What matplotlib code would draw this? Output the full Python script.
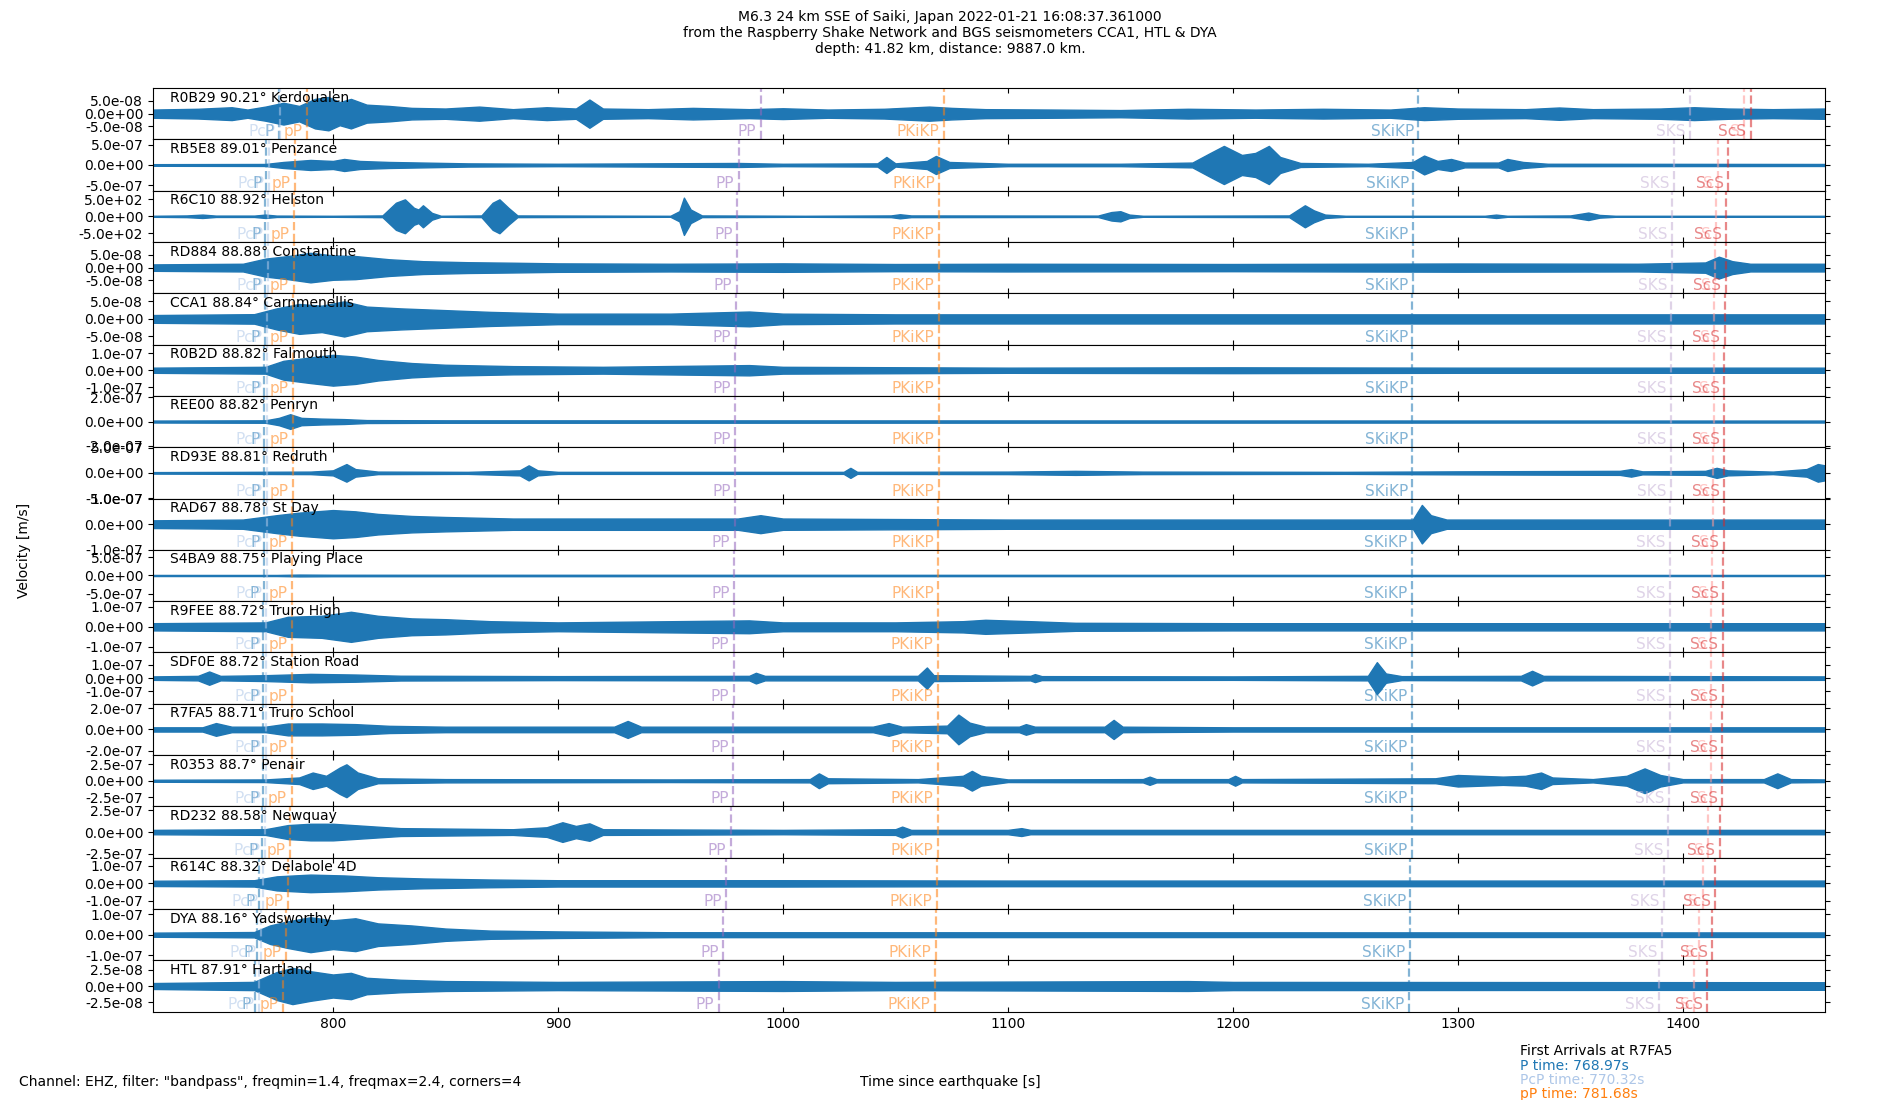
import matplotlib
matplotlib.use("Agg")
from matplotlib import pyplot as plt
from matplotlib.ticker import FormatStrFormatter

# stations, top to bottom
estaciones = ["R0B29 90.21° Kerdoualen", "RB5E8 89.01° Penzance", "R6C10 88.92° Helston",
              "RD884 88.88° Constantine", "CCA1 88.84° Carnmenellis", "R0B2D 88.82° Falmouth",
              "REE00 88.82° Penryn", "RD93E 88.81° Redruth", "RAD67 88.78° St Day",
              "S4BA9 88.75° Playing Place", "R9FEE 88.72° Truro High", "SDF0E 88.72° Station Road",
              "R7FA5 88.71° Truro School", "R0353 88.7° Penair", "RD232 88.58° Newquay",
              "R614C 88.32° Delabole 4D", "DYA 88.16° Yadsworthy", "HTL 87.91° Hartland"]

# y tick value shown on each axis and the half range of each axis
marcas = [5e-8, 5e-7, 5e2, 5e-8, 5e-8, 1e-7, 2e-7, 5e-7, 1e-7,
          5e-7, 1e-7, 1e-7, 2e-7, 2.5e-7, 2.5e-7, 1e-7, 1e-7, 2.5e-8]
limites = [1.0e-7, 6.4e-7, 757, 1.0e-7, 7.3e-8, 1.5e-7, 2.1e-7, 5.1e-7, 1.0e-7,
           7.1e-7, 1.28e-7, 1.93e-7, 2.42e-7, 3.9e-7, 2.94e-7, 1.46e-7, 1.25e-7, 3.9e-8]

# envelope of each trace: (time [s], amplitude in units of the y tick)
envolventes = [
    [(720, .32), (740, .38), (755, .5), (762, .32), (770, .55), (778, .85), (785, .6), (792, 1.15), (798, 1.3),
     (803, .9), (808, 1.15), (815, .7), (825, .6), (835, .45), (850, .4), (865, .55), (880, .35), (895, .5),
     (908, .4), (914, 1.1), (920, .4), (940, .35), (960, .45), (985, .35), (1000, .42), (1020, .32), (1045, .38),
     (1065, .55), (1075, .45), (1090, .35), (1120, .32), (1150, .28), (1180, .38), (1210, .32), (1240, .38),
     (1270, .32), (1285, .5), (1300, .4), (1330, .35), (1345, .48), (1360, .35), (1390, .4), (1405, .5),
     (1420, .4), (1440, .35), (1463, .4)],
    [(720, .04), (770, .05), (778, .15), (790, .25), (800, .2), (805, .3), (812, .2), (825, .15), (840, .12),
     (860, .08), (900, .06), (980, .1), (1000, .06), (1042, .08), (1046, .4), (1050, .08), (1064, .2),
     (1068, .45), (1074, .15), (1100, .06), (1150, .06), (1182, .12), (1190, .6), (1196, .95), (1204, .5),
     (1210, .6), (1216, .95), (1221, .4), (1230, .1), (1260, .06), (1280, .15), (1285, .47), (1291, .2),
     (1297, .3), (1303, .12), (1318, .12), (1322, .3), (1329, .15), (1340, .06), (1463, .05)],
    [(720, .03), (735, .05), (742, .1), (748, .04), (765, .04), (770, .1), (775, .04), (800, .03), (822, .05),
     (828, .8), (832, 1.0), (836, .5), (838, .4), (840, .65), (844, .2), (848, .03), (866, .05), (871, .8),
     (874, 1.0), (878, .5), (882, .05), (950, .03), (954, .3), (956, 1.1), (959, .4), (964, .05), (1010, .03),
     (1048, .05), (1052, .12), (1057, .05), (1140, .04), (1146, .25), (1150, .3), (1154, .1), (1160, .03),
     (1225, .05), (1232, .65), (1236, .35), (1241, .1), (1250, .03), (1312, .03), (1317, .1), (1322, .03),
     (1350, .05), (1358, .22), (1363, .08), (1370, .03), (1463, .03)],
    [(720, .25), (760, .3), (770, .7), (780, .9), (790, 1.15), (800, .95), (810, .9), (825, .65), (840, .5),
     (860, .42), (880, .38), (900, .33), (950, .3), (1000, .33), (1050, .28), (1100, .3), (1200, .28),
     (1300, .32), (1380, .3), (1410, .4), (1416, .85), (1422, .5), (1430, .3), (1463, .3)],
    [(720, .22), (765, .27), (775, .6), (785, .85), (795, .75), (805, 1.0), (815, .7), (830, .6), (850, .5),
     (870, .4), (900, .3), (950, .3), (985, .42), (1000, .3), (1050, .26), (1100, .26), (1200, .26),
     (1300, .26), (1463, .26)],
    [(720, .15), (770, .2), (778, .55), (790, .75), (800, .9), (810, .8), (820, .6), (835, .42), (850, .32),
     (880, .24), (920, .2), (985, .3), (1000, .2), (1100, .15), (1200, .17), (1300, .15), (1463, .15)],
    [(720, .04), (770, .05), (776, .15), (781, .3), (786, .15), (795, .12), (805, .1), (815, .06), (850, .05),
     (1463, .04)],
    [(720, .03), (760, .04), (790, .05), (800, .1), (806, .35), (810, .15), (820, .05), (860, .04), (883, .1),
     (887, .3), (891, .1), (900, .04), (1027, .04), (1030, .2), (1033, .04), (1100, .05), (1130, .08),
     (1160, .05), (1250, .04), (1300, .06), (1372, .08), (1377, .15), (1382, .06), (1410, .08), (1415, .2),
     (1420, .1), (1440, .05), (1455, .15), (1460, .35), (1463, .3)],
    [(720, .15), (760, .18), (775, .35), (785, .45), (800, .55), (810, .5), (820, .4), (835, .32), (850, .28),
     (880, .22), (980, .22), (990, .35), (1000, .22), (1100, .18), (1200, .18), (1280, .18), (1284, .75),
     (1288, .35), (1295, .18), (1463, .18)],
    [(720, .03), (775, .03), (785, .05), (800, .04), (1463, .03)],
    [(720, .18), (770, .22), (780, .5), (795, .55), (808, .75), (820, .55), (835, .42), (850, .38), (870, .28),
     (900, .22), (985, .32), (1000, .22), (1050, .22), (1080, .28), (1090, .35), (1110, .28), (1130, .2),
     (1200, .18), (1300, .18), (1463, .18)],
    [(720, .13), (740, .17), (745, .5), (750, .17), (770, .22), (790, .32), (810, .27), (830, .18), (900, .15),
     (985, .17), (988, .4), (992, .17), (1060, .17), (1064, .8), (1067, .22), (1110, .17), (1112, .3),
     (1115, .15), (1200, .13), (1260, .17), (1264, 1.2), (1268, .35), (1275, .15), (1328, .17), (1333, .55),
     (1338, .17), (1463, .13)],
    [(720, .1), (742, .1), (748, .3), (755, .13), (770, .13), (780, .28), (795, .28), (810, .25), (825, .17),
     (850, .13), (925, .13), (931, .4), (937, .13), (1000, .13), (1040, .13), (1047, .3), (1053, .13),
     (1073, .18), (1078, .7), (1083, .32), (1090, .13), (1105, .13), (1108, .25), (1112, .13), (1143, .13),
     (1147, .45), (1151, .13), (1200, .1), (1463, .1)],
    [(720, .06), (770, .08), (785, .2), (791, .5), (797, .3), (803, .8), (806, 1.0), (811, .5), (820, .15),
     (850, .1), (950, .08), (1012, .1), (1016, .45), (1020, .15), (1060, .1), (1080, .3), (1084, .6),
     (1088, .3), (1100, .08), (1160, .1), (1163, .25), (1166, .1), (1198, .1), (1201, .3), (1204, .1),
     (1290, .15), (1300, .35), (1310, .3), (1320, .25), (1330, .3), (1337, .5), (1342, .2), (1360, .1),
     (1375, .3), (1383, .75), (1390, .35), (1400, .1), (1436, .1), (1442, .45), (1448, .1), (1463, .08)],
    [(720, .1), (770, .13), (780, .32), (790, .38), (800, .38), (815, .28), (830, .18), (880, .13), (895, .22),
     (902, .45), (908, .28), (914, .4), (920, .13), (1000, .1), (1050, .13), (1053, .25), (1057, .1),
     (1100, .1), (1106, .18), (1110, .1), (1463, .1)],
    [(720, .15), (765, .18), (775, .4), (790, .5), (805, .45), (820, .35), (840, .28), (870, .22), (900, .18),
     (1000, .18), (1100, .16), (1200, .16), (1300, .16), (1463, .16)],
    [(720, .1), (765, .13), (772, .45), (780, .65), (790, .85), (800, .7), (810, .8), (820, .55), (835, .45),
     (850, .3), (870, .2), (900, .16), (950, .12), (1463, .11)],
    [(720, .18), (765, .25), (775, .85), (782, 1.1), (790, .9), (800, .7), (808, .8), (815, .5), (830, .38),
     (850, .3), (900, .25), (1000, .3), (1050, .25), (1180, .3), (1200, .25), (1463, .23)],
]

# phase arrival times [s] per station
fases = ["P", "PcP", "pP", "PP", "PKiKP", "SKiKP", "SKS", "S", "ScS"]
coloresFases = ["#1f77b4", "#aec7e8", "#ff7f0e", "#9467bd", "#ff7f0e", "#1f77b4", "#c5b0d5", "#ff9896", "#d62728"]
tiempoP = [775.9, 770.4, 769.9, 769.8, 769.6, 769.5, 769.5, 769.4, 769.3, 769.2, 769.0, 769.0, 768.97, 768.9, 768.4, 767.2, 766.4, 765.3]
tiempoPcP = [776.5, 771.5, 771.2, 771.0, 770.9, 770.8, 770.8, 770.7, 770.6, 770.5, 770.4, 770.4, 770.32, 770.3, 769.8, 768.7, 768.1, 767.0]
tiempopP = [788.6, 783.1, 782.6, 782.5, 782.3, 782.2, 782.2, 782.1, 782.0, 781.9, 781.7, 781.7, 781.68, 781.6, 781.1, 779.9, 779.2, 778.0]
tiempoPP = [990.2, 980.4, 979.7, 979.4, 979.1, 978.9, 978.9, 978.8, 978.6, 978.3, 978.1, 978.1, 978.0, 977.9, 976.9, 974.8, 973.5, 971.5]
tiempoPKiKP = [1071.6, 1069.5, 1069.4, 1069.3, 1069.2, 1069.2, 1069.2, 1069.2, 1069.1, 1069.1, 1069.0, 1069.0, 1069.0, 1069.0, 1068.8, 1068.3, 1068.0, 1067.6]
tiempoSKiKP = [1282.4, 1280.2, 1280.0, 1279.9, 1279.8, 1279.8, 1279.8, 1279.8, 1279.7, 1279.7, 1279.6, 1279.6, 1279.6, 1279.6, 1279.4, 1278.9, 1278.6, 1278.1]
tiempoSKS = [1403.1, 1395.9, 1395.4, 1395.1, 1394.9, 1394.8, 1394.8, 1394.7, 1394.5, 1394.3, 1394.2, 1394.2, 1394.1, 1394.0, 1393.3, 1391.8, 1390.8, 1389.3]
tiempoS = [1427.1, 1415.5, 1414.6, 1414.2, 1413.9, 1413.7, 1413.7, 1413.6, 1413.3, 1413.0, 1412.7, 1412.7, 1412.6, 1412.5, 1411.3, 1408.8, 1407.3, 1404.9]
tiempoScS = [1430.1, 1420.1, 1419.4, 1419.0, 1418.7, 1418.5, 1418.5, 1418.4, 1418.2, 1417.9, 1417.7, 1417.7, 1417.6, 1417.5, 1416.5, 1414.3, 1413.0, 1410.9]
tiemposFases = [tiempoP, tiempoPcP, tiempopP, tiempoPP, tiempoPKiKP, tiempoSKiKP, tiempoSKS, tiempoS, tiempoScS]

figura, ejes = plt.subplots(len(estaciones), 1, sharex=True, figsize=(19, 11), dpi=100)
figura.subplots_adjust(left=0.0805, right=0.9603, top=0.92, bottom=0.0803, hspace=0)

for i, ax in enumerate(ejes):
    t = [k[0] for k in envolventes[i]]
    a = [k[1] * marcas[i] for k in envolventes[i]]
    ax.fill_between(t, [-v for v in a], a, color="#1f77b4", lw=1.0)

    for j, fase in enumerate(fases):
        tf = tiemposFases[j][i]
        ax.axvline(tf, color=coloresFases[j], ls="--", lw=1.6, alpha=0.55)
        ax.text(tf - 2, -limites[i], fase, color=coloresFases[j], alpha=0.55, fontsize=11,
                ha="right", va="bottom")

    ax.text(0.01, 0.95, estaciones[i], transform=ax.transAxes, va="top", fontsize=10)
    ax.set_ylim(-limites[i], limites[i])
    ax.set_yticks([-marcas[i], 0, marcas[i]])
    ax.yaxis.set_major_formatter(FormatStrFormatter("%.1e"))
    ax.tick_params(axis="y", right=True, labelsize=10)
    ax.tick_params(axis="x", direction="in", top=True, labelsize=10)

ejes[-1].set_xlim(720, 1463)
ejes[-1].set_xticks([800, 900, 1000, 1100, 1200, 1300, 1400])

figura.suptitle("M6.3 24 km SSE of Saiki, Japan 2022-01-21 16:08:37.361000\n"
                "from the Raspberry Shake Network and BGS seismometers CCA1, HTL & DYA\n"
                "depth: 41.82 km, distance: 9887.0 km.", y=0.991, fontsize=10)
figura.text(0.009, 0.5, "Velocity [m/s]", rotation=90, va="center", ha="left", fontsize=10)
figura.text(0.5, 0.0164, "Time since earthquake [s]", ha="center", va="center", fontsize=10)
figura.text(0.01, 0.0164, 'Channel: EHZ, filter: "bandpass", freqmin=1.4, freqmax=2.4, corners=4',
            ha="left", va="center", fontsize=10)
figura.text(0.8, 0.0445, "First Arrivals at R7FA5", va="center", fontsize=10)
figura.text(0.8, 0.031, "P time: 768.97s", color="#1f77b4", va="center", fontsize=10)
figura.text(0.8, 0.0185, "PcP time: 770.32s", color="#aec7e8", va="center", fontsize=10)
figura.text(0.8, 0.0055, "pP time: 781.68s", color="#ff7f0e", va="center", fontsize=10)

plt.savefig("out.png", dpi=100)
